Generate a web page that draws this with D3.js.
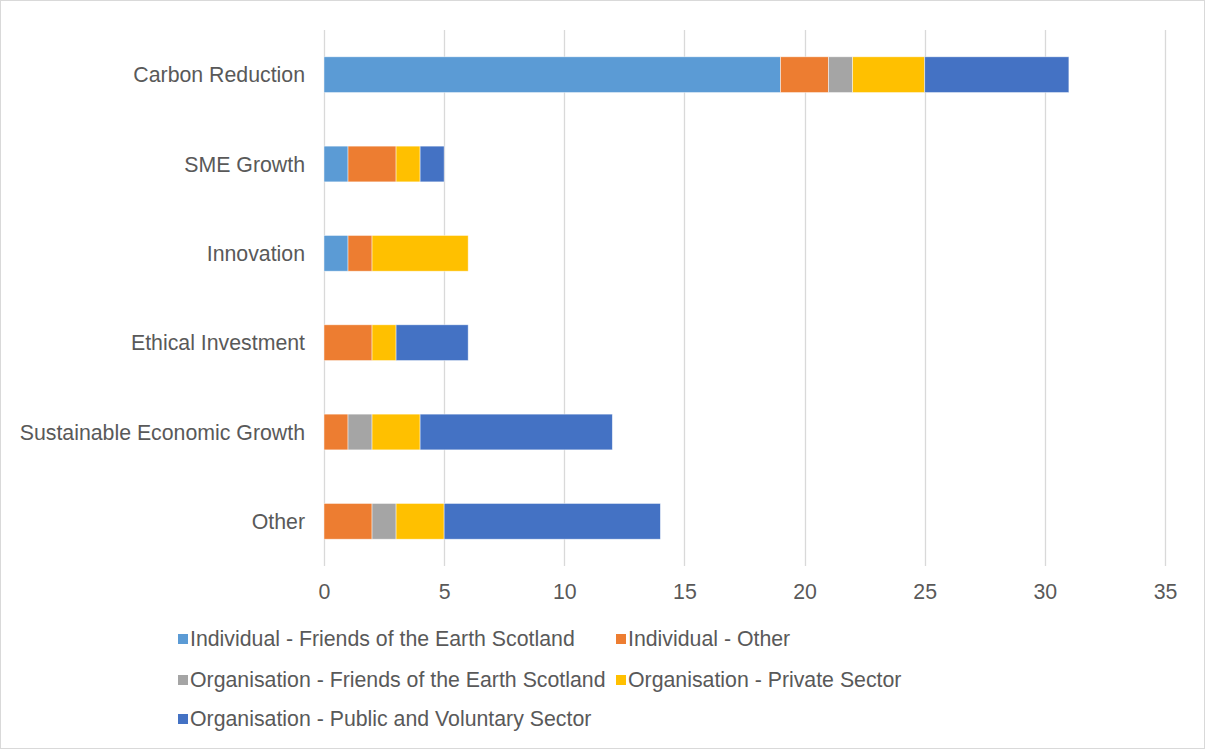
<!DOCTYPE html>
<html>
<head>
<meta charset="utf-8">
<script src="https://cdn.jsdelivr.net/npm/d3@7"></script>
<style>
  html, body { margin: 0; padding: 0; background: #fff; }
  svg { display: block; font-family: "Liberation Sans", Arial, sans-serif; }
</style>
</head>
<body>
<svg id="chart" width="1205" height="749"></svg>
<script>
// Categories, top to bottom
const categories = ["Carbon Reduction", "SME Growth", "Innovation", "Ethical Investment", "Sustainable Economic Growth", "Other"];

// Respondent groups (stack order, left to right)
const seriesNames = [
  "Individual - Friends of the Earth Scotland",
  "Individual - Other",
  "Organisation - Friends of the Earth Scotland",
  "Organisation - Private Sector",
  "Organisation - Public and Voluntary Sector"
];

// Counts per category for each group
const indFoes   = [19, 1, 1, 0, 0, 0];
const indOther  = [2, 2, 1, 2, 1, 2];
const orgFoes   = [1, 0, 0, 0, 1, 1];
const orgPriv   = [3, 1, 4, 1, 2, 2];
const orgPublic = [6, 1, 0, 3, 8, 9];

const xTicks = [0, 5, 10, 15, 20, 25, 30, 35];
const colors = ["#5B9BD5", "#ED7D31", "#A5A5A5", "#FFC000", "#4472C4"];

const seriesValues = [indFoes, indOther, orgFoes, orgPriv, orgPublic];
const rows = categories.map((c, i) => {
  const r = { category: c };
  seriesNames.forEach((s, j) => { r[s] = seriesValues[j][i]; });
  return r;
});

const svg = d3.select("#chart");
const W = 1205, H = 749;
const textColor = "#595959";
const gridColor = "#D9D9D9";
const fontSize = "21.3px";

// outer frame
svg.append("rect")
  .attr("x", 0.5).attr("y", 0.5)
  .attr("width", W - 1).attr("height", H - 1)
  .attr("fill", "#fff").attr("stroke", gridColor).attr("stroke-width", 1);

const plot = { left: 324, right: 1165, top: 30, bottom: 566 };

const x = d3.scaleLinear().domain([0, 35]).range([plot.left, plot.right]);
const y = d3.scaleBand().domain(categories).range([plot.top, plot.bottom]).paddingInner(0.6).paddingOuter(0.3);

// vertical gridlines
svg.append("g")
  .selectAll("line")
  .data(xTicks)
  .join("line")
  .attr("x1", d => Math.round(x(d)) + 0.5)
  .attr("x2", d => Math.round(x(d)) + 0.5)
  .attr("y1", plot.top)
  .attr("y2", plot.bottom)
  .attr("stroke", gridColor)
  .attr("stroke-width", 1.3);

// stacked bars
const stack = d3.stack().keys(seriesNames);
const layers = stack(rows);

svg.append("g")
  .selectAll("g")
  .data(layers)
  .join("g")
  .attr("fill", (d, i) => colors[i])
  .selectAll("rect")
  .data(d => d.filter(s => s[1] - s[0] > 0))
  .join("rect")
  .attr("x", d => x(d[0]))
  .attr("width", d => x(d[1]) - x(d[0]))
  .attr("y", d => y(d.data.category))
  .attr("height", y.bandwidth())
  .attr("stroke", "#fff")
  .attr("stroke-opacity", 0.6)
  .attr("stroke-width", 0.75);

// x axis labels
const xAxis = d3.axisBottom(x).tickValues(xTicks).tickSize(0).tickPadding(0);
const gx = svg.append("g")
  .attr("transform", `translate(0, ${plot.bottom})`)
  .call(xAxis);
gx.select(".domain").remove();
gx.selectAll("text")
  .attr("dy", null)
  .attr("y", 33)
  .attr("fill", textColor)
  .style("font-size", fontSize)
  .style("font-family", '"Liberation Sans", Arial, sans-serif');

// y axis labels
const yAxis = d3.axisLeft(y).tickSize(0).tickPadding(19);
const gy = svg.append("g")
  .attr("transform", `translate(${plot.left}, 0)`)
  .call(yAxis);
gy.select(".domain").remove();
gy.selectAll("text")
  .attr("y", 1)
  .attr("fill", textColor)
  .style("font-size", fontSize)
  .style("font-family", '"Liberation Sans", Arial, sans-serif');

// legend
const legendPos = [
  { x: 178, y: 639 },
  { x: 616, y: 639 },
  { x: 178, y: 680 },
  { x: 616, y: 680 },
  { x: 178, y: 719 }
];
const legend = svg.append("g")
  .selectAll("g")
  .data(seriesNames)
  .join("g")
  .attr("transform", (d, i) => `translate(${legendPos[i].x}, ${legendPos[i].y})`);
legend.append("rect")
  .attr("x", 0).attr("y", -5)
  .attr("width", 10).attr("height", 10)
  .attr("fill", (d, i) => colors[i]);
legend.append("text")
  .attr("x", 12)
  .attr("y", 0)
  .attr("dy", "0.35em")
  .attr("fill", textColor)
  .style("font-size", fontSize)
  .text(d => d);
</script>
</body>
</html>
